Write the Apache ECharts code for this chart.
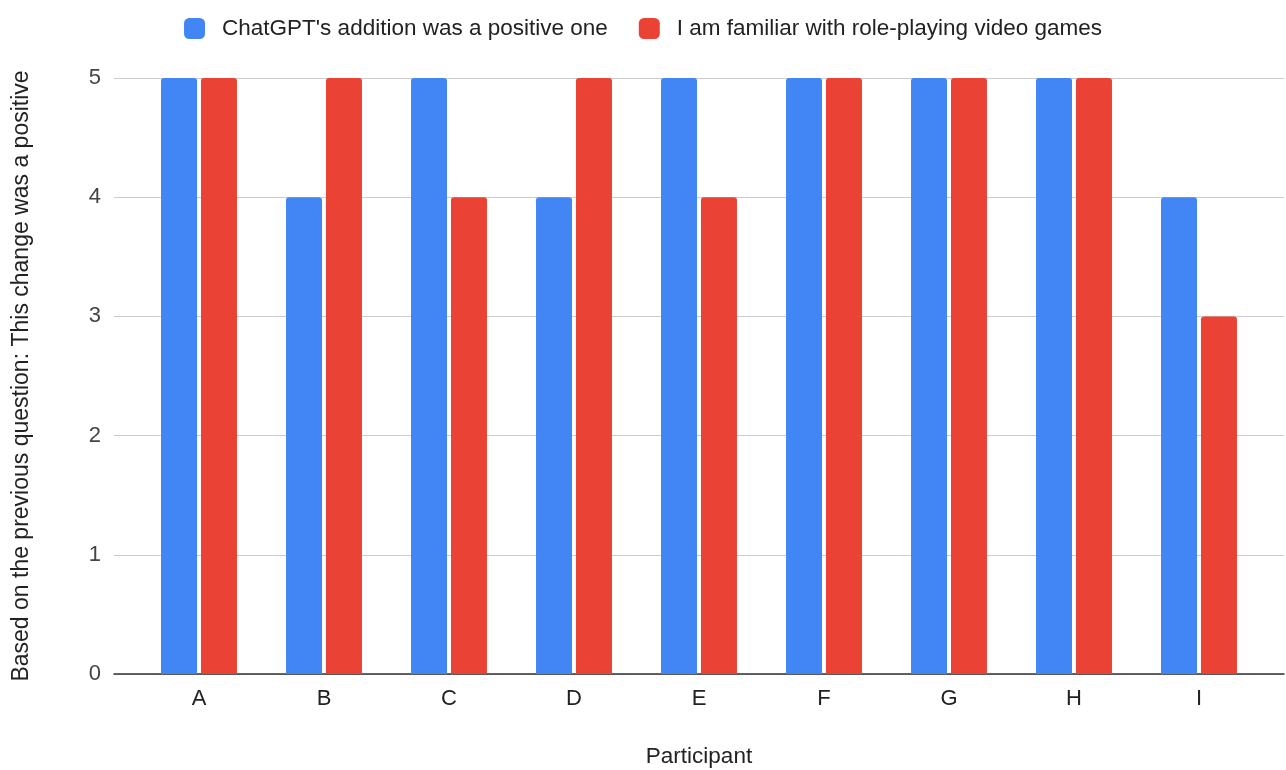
<!DOCTYPE html>
<html>
<head>
<meta charset="utf-8">
<script src="https://cdn.jsdelivr.net/npm/echarts@6/dist/echarts.min.js"></script>
<style>
  html, body { margin: 0; padding: 0; background: #fff; }
  #chart { width: 1286px; height: 770px; }
</style>
</head>
<body>
<div id="chart"></div>
<script>
// Participants and their ratings (1–5 scale)
const participants = ['A', 'B', 'C', 'D', 'E', 'F', 'G', 'H', 'I'];
const chatgptPositive = [5, 4, 5, 4, 5, 5, 5, 5, 4];
const familiarRPG = [5, 5, 4, 5, 4, 5, 5, 5, 3];
const seriesNames = ["ChatGPT's addition was a positive one", 'I am familiar with role-playing video games'];
const yTicks = [0, 1, 2, 3, 4, 5];

const FONT = '"Liberation Sans", Arial, sans-serif';
const chart = echarts.init(document.getElementById('chart'), null, { renderer: 'canvas' });

const yMin = yTicks[0], yMax = yTicks[yTicks.length - 1];

chart.setOption({
  animation: false,
  backgroundColor: '#ffffff',
  textStyle: { fontFamily: FONT },
  legend: {
    top: 12,
    left: 'center',
    itemWidth: 21,
    itemHeight: 21,
    itemGap: 31,
    icon: 'roundRect',
    textStyle: { fontSize: 22.5, color: '#222', fontFamily: FONT, padding: [0, 0, 0, 12] },
    data: seriesNames
  },
  grid: [
    // frame grid: value axis, gridlines and baseline
    { left: 114, right: 2, top: 78, bottom: 96, outerBoundsMode: 'none', containLabel: false },
    // bar grid: inset so the category bands have padding at both ends
    { left: 136.5, right: 24.5, top: 78, bottom: 96, outerBoundsMode: 'none', containLabel: false }
  ],
  xAxis: [
    {
      gridIndex: 0, type: 'value', min: 0, max: 1,
      axisLine: { show: true, lineStyle: { color: '#333', width: 1.5 } },
      axisTick: { show: false }, axisLabel: { show: false }, splitLine: { show: false }
    },
    {
      gridIndex: 1, type: 'category', data: participants,
      axisLine: { show: false }, axisTick: { show: false },
      axisLabel: { fontSize: 22, color: '#222', margin: 14, fontFamily: FONT },
      name: 'Participant', nameLocation: 'middle', nameGap: 71,
      nameTextStyle: { fontSize: 22.5, color: '#222', fontFamily: FONT }
    }
  ],
  yAxis: [
    {
      gridIndex: 0, type: 'value', min: yMin, max: yMax, interval: 1,
      axisLine: { show: false }, axisTick: { show: false },
      axisLabel: { fontSize: 22, color: '#444', margin: 13, fontFamily: FONT },
      splitLine: { lineStyle: { color: '#cccccc', width: 1 } },
      name: 'Based on the previous question: This change was a positive',
      nameLocation: 'middle', nameGap: 81, nameRotate: 90,
      nameTextStyle: { fontSize: 23, color: '#222', fontFamily: FONT }
    },
    {
      gridIndex: 1, type: 'value', min: yMin, max: yMax, interval: 1,
      show: false
    }
  ],
  series: [
    {
      name: seriesNames[0], type: 'bar', xAxisIndex: 1, yAxisIndex: 1,
      data: chatgptPositive, barWidth: 36, barGap: '11%',
      itemStyle: { color: '#4285F4', borderRadius: [3, 3, 0, 0] }
    },
    {
      name: seriesNames[1], type: 'bar', xAxisIndex: 1, yAxisIndex: 1,
      data: familiarRPG, barWidth: 36, barGap: '11%',
      itemStyle: { color: '#EA4335', borderRadius: [3, 3, 0, 0] }
    }
  ]
});
</script>
</body>
</html>
